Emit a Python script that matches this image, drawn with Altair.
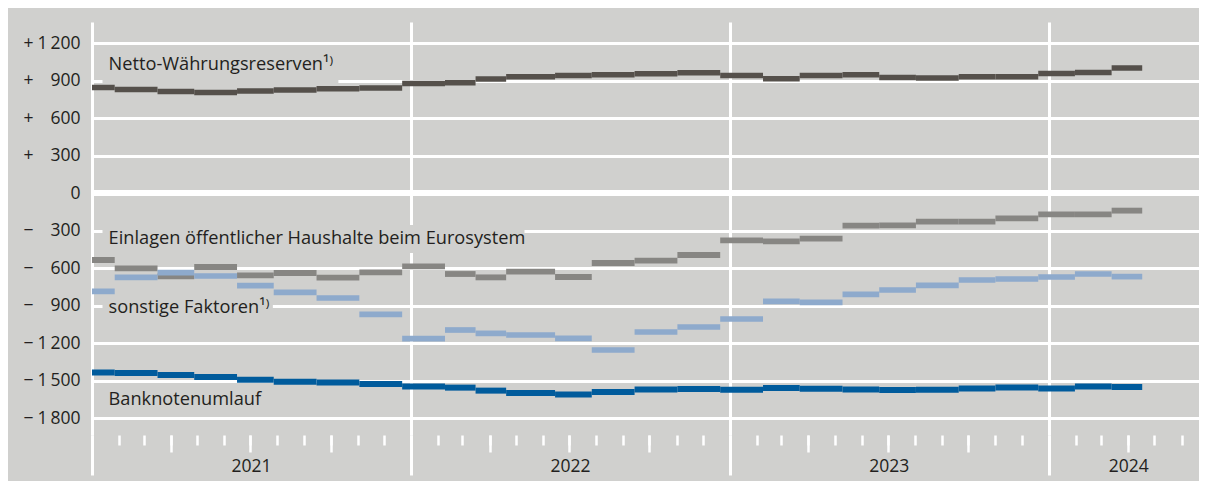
import altair as alt
import pandas as pd

# Maintenance-period boundaries (start of each period, last entry = end of last period)
period_bounds = [
    "2020-12-16", "2021-01-27", "2021-03-17", "2021-04-28", "2021-06-16", "2021-07-28",
    "2021-09-15", "2021-11-03", "2021-12-22", "2022-02-09", "2022-03-16", "2022-04-20",
    "2022-06-15", "2022-07-27", "2022-09-14", "2022-11-02", "2022-12-21", "2023-02-08",
    "2023-03-22", "2023-05-10", "2023-06-21", "2023-08-02", "2023-09-20", "2023-11-01",
    "2023-12-20", "2024-01-31", "2024-03-13", "2024-04-17",
]

netto = [845, 829, 813, 805, 816, 824, 834, 840, 877, 882, 912, 931, 941, 946,
         954, 962, 941, 915, 941, 946, 925, 920, 931, 931, 957, 965, 1000]
einlagen = [-536, -603, -667, -592, -659, -640, -677, -635, -587, -648, -675, -629,
            -672, -560, -541, -496, -379, -387, -365, -261, -259, -229, -229, -203,
            -171, -171, -141]
sonstige = [-787, -675, -637, -664, -741, -795, -840, -971, -1165, -1096, -1123,
            -1136, -1163, -1256, -1112, -1072, -1008, -867, -875, -811, -776, -739,
            -696, -688, -672, -648, -669]
banknoten = [-1435, -1440, -1456, -1472, -1493, -1509, -1515, -1528, -1547, -1557,
             -1581, -1600, -1611, -1592, -1571, -1568, -1573, -1560, -1565, -1571,
             -1576, -1573, -1563, -1555, -1563, -1547, -1552]

series_names = ["Banknotenumlauf", "Einlagen", "sonstige Faktoren", "Netto-Währungsreserven"]
series_values = [banknoten, einlagen, sonstige, netto]
series_colors = ["#005b9c", "#878683", "#8eaacc", "#55504b"]
series_widths = [6, 5.5, 5.5, 6.5]

y_ticks = [-1800, -1500, -1200, -900, -600, -300, 0, 300, 600, 900, 1200]
year_ticks = ["2021-01-01", "2022-01-01", "2023-01-01", "2024-01-01"]
year_label_pos = ["2021-07-02", "2022-07-02", "2023-07-02", "2024-04-01"]

label_texts = ["Netto-Währungsreserven¹⁾",
               "Einlagen öffentlicher Haushalte beim Eurosystem",
               "sonstige Faktoren¹⁾",
               "Banknotenumlauf"]
label_x = ["2021-01-20", "2021-01-20", "2021-01-20", "2021-01-20"]
label_y = [984, -408, -960, -1696]

# background boxes behind labels (interrupt the grid lines)
box_x = ["2021-01-13", "2021-01-13", "2021-01-13"]
box_x2 = ["2021-10-10", "2022-05-11", "2021-07-27"]
box_y = [1144, -256, -832]
box_y2 = [880, -480, -1000]

X_START, X_END = "2021-01-01", "2024-06-21"
BG = "#d0d0ce"
TXT = "#231f20"
FONT = "Open Sans"


def ms(s):
    return int(pd.Timestamp(s, tz="UTC").value // 10**6)


month_ticks = [ms(d) for d in pd.date_range("2021-01-01", "2024-06-01", freq="MS")]
quarter_ticks = [ms(d) for d in pd.date_range("2021-01-01", "2024-06-01", freq="MS")
                 if d.month in (4, 7, 10)]

rows = []
for name, vals in zip(series_names, series_values):
    for i, v in enumerate(vals):
        rows.append({"series": name, "start": ms(period_bounds[i]),
                     "end": ms(period_bounds[i + 1]), "value": v})
df = pd.DataFrame(rows)

labels_df = pd.DataFrame({"x": [ms(d) for d in label_x], "y": label_y, "label": label_texts})
boxes_df = pd.DataFrame({"x": [ms(d) for d in box_x], "x2": [ms(d) for d in box_x2],
                         "y": box_y, "y2": box_y2})
zero_df = pd.DataFrame({"x": [ms(X_START)], "x2": [ms(X_END)], "y": [0]})

xscale = alt.Scale(domain=[ms(X_START), ms(X_END)], nice=False)
yscale = alt.Scale(domain=[-1936, 1368], nice=False, zero=False)

thin = "\u2009"
num_expr = ("datum.value == 0 ? '0' : replace(format(abs(datum.value), ','), ',', '"
            + thin + "')")
sign_expr = "datum.value > 0 ? '+' : (datum.value < 0 ? '\u2212' : '')"

# Layer 1: zero line + year labels axis + sign axis
zero = alt.Chart(zero_df).mark_rule(color="white", strokeWidth=6).encode(
    x=alt.X("x:T", scale=xscale, axis=alt.Axis(
        orient="bottom", values=[ms(d) for d in year_label_pos], ticks=False, tickSize=0,
        domain=False, grid=False, labelExpr="utcFormat(datum.value, '%Y')",
        labelPadding=22, labelFont=FONT, labelFontSize=17.5, labelColor=TXT,
        labelFlush=False, title=None)),
    x2="x2:T",
    y=alt.Y("y:Q", scale=yscale, axis=alt.Axis(
        orient="left", values=y_ticks, ticks=False, tickSize=0, domain=False, grid=False,
        labelExpr=sign_expr, labelAlign="left", labelPadding=69, labelFont=FONT,
        labelFontSize=17.5, labelColor=TXT, title=None)),
)

# Layer 2: label boxes + quarterly ticks
boxes = alt.Chart(boxes_df).mark_rect(color=BG).encode(
    x=alt.X("x:T", scale=xscale, axis=alt.Axis(
        orient="bottom", values=quarter_ticks, ticks=True, tickSize=17, tickWidth=2.5,
        tickColor="white", labels=False, domain=False, grid=False, title=None)),
    x2="x2:T",
    y=alt.Y("y:Q", scale=yscale, axis=None),
    y2="y2:Q",
)

# Layer 3: series
series = alt.Chart(df).mark_rule(clip=True).encode(
    x=alt.X("start:T", scale=xscale, axis=alt.Axis(
        orient="bottom", values=month_ticks, ticks=True, tickSize=10, tickWidth=2.5,
        tickColor="white", labels=False, domain=False, grid=False, title=None)),
    x2="end:T",
    y=alt.Y("value:Q", scale=yscale, axis=alt.Axis(
        orient="left", values=y_ticks, ticks=False, tickSize=0, domain=False, grid=True,
        gridColor="white", gridWidth=3, gridOpacity=1, labelExpr=num_expr,
        labelAlign="right", labelPadding=12, labelFont=FONT, labelFontSize=17.5,
        labelColor=TXT, title=None)),
    color=alt.Color("series:N", scale=alt.Scale(domain=series_names, range=series_colors),
                    legend=None),
    strokeWidth=alt.StrokeWidth("series:N", scale=alt.Scale(domain=series_names,
                                                            range=series_widths),
                                legend=None),
    order=alt.Order("order:Q"),
).transform_calculate(
    order="indexof(" + str(series_names).replace("'", '"') + ", datum.series)"
)

# Layer 4: text labels + year grid lines / long ticks
texts = alt.Chart(labels_df).mark_text(
    align="left", baseline="alphabetic", font=FONT, fontSize=18.2, color=TXT
).encode(
    x=alt.X("x:T", scale=xscale, axis=alt.Axis(
        orient="bottom", values=[ms(d) for d in year_ticks], ticks=True, tickSize=40,
        tickWidth=3, tickColor="white", labels=False, domain=False, grid=True,
        gridColor="white", gridWidth=3, gridOpacity=1, title=None)),
    y=alt.Y("y:Q", scale=yscale, axis=None),
    text="label:N",
)

chart = alt.layer(zero, boxes, series, texts).resolve_axis(
    x="independent", y="independent"
).properties(
    width=1107, height=413,
    autosize=alt.AutoSizeParams(type="none"),
    padding={"left": 84, "top": 14, "right": 0, "bottom": 46},
).configure(background=BG).configure_view(strokeWidth=0)

chart.save("out.html", embed_options={"renderer": "svg", "actions": False})
